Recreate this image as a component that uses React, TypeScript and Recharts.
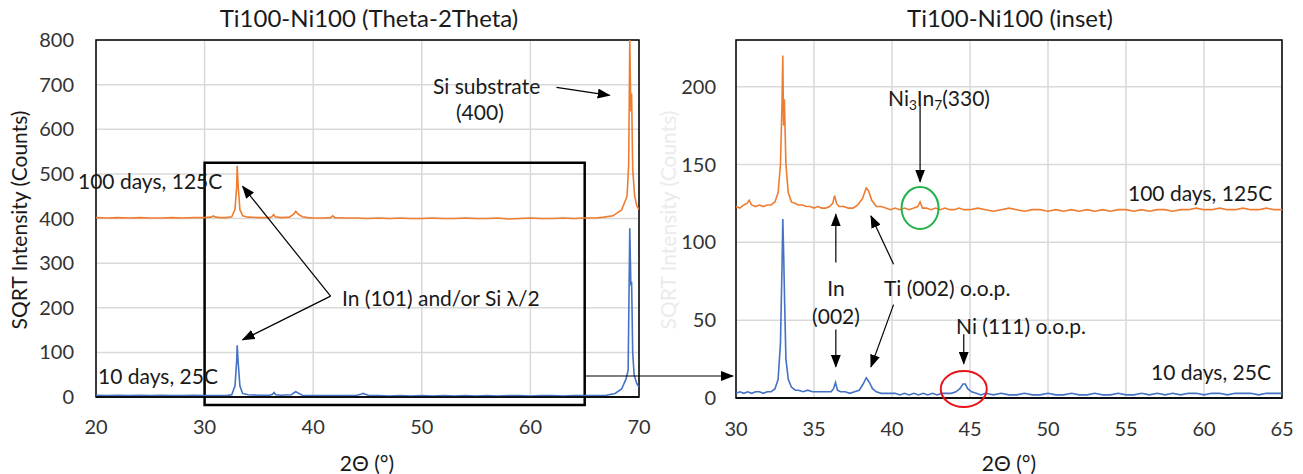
import React from "react";
import {
  LineChart,
  Line,
  XAxis,
  YAxis,
  CartesianGrid,
  ReferenceArea,
  ReferenceLine,
  ReferenceDot,
} from "recharts";

// 2θ (deg), SQRT counts — full scan, 100 days 125C (offset trace)
const wideAged: [number, number][] = [
  [20, 402], [21, 401], [22, 402], [23, 401], [24, 402], [25, 401], [26, 401], [27, 402],
  [28, 401], [29, 402], [30, 402], [30.6, 403], [30.8, 406], [31, 403], [31.5, 402], [32, 402],
  [32.5, 404], [32.8, 420], [32.95, 470], [33, 518], [33.1, 470], [33.25, 420], [33.5, 406],
  [34, 403], [35, 402], [36, 402], [36.2, 404], [36.35, 409], [36.5, 404], [37, 402], [37.8, 403],
  [38.2, 410], [38.4, 416], [38.6, 410], [39, 404], [39.5, 402], [40, 401], [41, 401], [41.6, 402],
  [41.8, 406], [42, 402], [43, 401], [44, 401], [45, 400], [46, 401], [47, 400], [48, 401],
  [49, 400], [50, 400], [51, 401], [52, 400], [53, 400], [54, 401], [55, 400], [56, 400],
  [57, 401], [58, 399], [59, 400], [60, 401], [61, 400], [62, 400], [63, 401], [64, 400],
  [65, 401], [66, 401], [66.8, 403], [67.6, 406], [68.4, 419], [68.9, 450], [69.05, 520],
  [69.15, 800], [69.25, 640], [69.32, 680], [69.42, 510], [69.6, 450], [69.8, 428], [70, 420],
];

// full scan, 10 days 25C
const wideFresh: [number, number][] = [
  [20, 4], [21, 3], [22, 4], [23, 3], [24, 4], [25, 3], [26, 4], [27, 3], [28, 3], [29, 4],
  [30, 3], [31, 3], [32, 3], [32.5, 5], [32.8, 25], [32.95, 80], [33, 116], [33.1, 75],
  [33.25, 25], [33.5, 8], [34, 5], [35, 4], [36, 4], [36.25, 6], [36.4, 10], [36.55, 5],
  [37, 4], [38, 5], [38.2, 9], [38.4, 12], [38.6, 9], [39, 4], [40, 3], [41, 3], [42, 3],
  [43, 3], [44, 4], [44.4, 6], [44.6, 8], [44.8, 6], [45.2, 3], [46, 3], [47, 2], [48, 3],
  [49, 2], [50, 3], [51, 2], [52, 3], [53, 2], [54, 3], [55, 2], [56, 3], [57, 2], [58, 3],
  [59, 3], [60, 2], [61, 3], [62, 3], [63, 2], [64, 3], [65, 3], [66, 3], [67, 4], [67.8, 8],
  [68.4, 18], [68.8, 40], [69, 60], [69.15, 378], [69.25, 250], [69.32, 258], [69.42, 100],
  [69.55, 50], [69.8, 30], [70, 22],
];

// inset, 100 days 125C
const insetAged: [number, number][] = [
  [30, 123], [30.25, 122], [30.5, 124], [30.7, 125], [30.85, 127], [31, 124], [31.25, 123],
  [31.5, 124], [31.75, 123], [32, 124], [32.25, 124], [32.5, 126], [32.7, 132], [32.85, 150],
  [32.95, 190], [33, 220], [33.05, 175], [33.1, 192], [33.2, 150], [33.35, 132], [33.55, 126],
  [33.8, 125], [34, 124], [34.25, 124], [34.5, 123], [34.75, 123], [35, 122], [35.25, 123],
  [35.5, 122], [35.75, 122], [36, 123], [36.2, 125], [36.32, 130], [36.45, 125], [36.6, 123],
  [36.9, 123], [37.2, 122], [37.5, 122], [37.8, 124], [38.1, 128], [38.35, 135], [38.5, 133],
  [38.7, 127], [39, 123], [39.3, 123], [39.6, 122], [39.9, 121], [40.2, 122], [40.5, 121],
  [40.8, 122], [41.1, 121], [41.4, 122], [41.65, 123], [41.8, 126], [41.95, 122], [42.2, 122],
  [42.5, 121], [42.8, 122], [43.1, 121], [43.4, 122], [43.7, 121], [44, 121], [44.3, 122],
  [44.6, 121], [45, 121], [45.5, 122], [46, 121], [46.5, 120], [47, 121], [47.5, 122],
  [48, 121], [48.5, 120], [49, 121], [49.5, 121], [50, 120], [50.5, 121], [51, 120],
  [51.5, 121], [52, 120], [52.5, 121], [53, 120], [53.5, 121], [54, 120], [54.5, 121],
  [55, 121], [55.5, 120], [56, 121], [56.5, 120], [57, 121], [57.5, 121], [58, 120],
  [58.5, 121], [59, 121], [59.5, 122], [60, 121], [60.5, 121], [61, 122], [61.5, 121],
  [62, 121], [62.5, 122], [63, 121], [63.5, 121], [64, 122], [64.5, 121], [65, 121],
];

// inset, 10 days 25C
const insetFresh: [number, number][] = [
  [30, 3], [30.25, 4], [30.5, 3], [30.75, 4], [31, 3], [31.25, 4], [31.5, 4], [31.75, 3],
  [32, 4], [32.25, 4], [32.5, 6], [32.7, 12], [32.85, 35], [32.95, 85], [33, 115], [33.05, 95],
  [33.12, 60], [33.2, 25], [33.35, 12], [33.55, 7], [33.8, 5], [34, 5], [34.3, 4], [34.6, 5],
  [34.9, 4], [35.2, 4], [35.5, 4], [35.8, 4], [36.1, 4], [36.25, 6], [36.38, 10], [36.5, 5],
  [36.7, 4], [37, 4], [37.3, 3], [37.6, 4], [37.9, 5], [38.15, 9], [38.35, 13], [38.55, 10],
  [38.75, 6], [39, 4], [39.3, 3], [39.6, 3], [39.9, 3], [40.2, 3], [40.5, 2], [40.8, 3],
  [41.1, 2], [41.4, 3], [41.7, 2], [42, 3], [42.3, 2], [42.6, 3], [42.9, 2], [43.2, 3],
  [43.5, 3], [43.8, 3], [44.1, 4], [44.35, 6], [44.55, 9], [44.7, 9], [44.85, 6], [45.1, 4],
  [45.4, 3], [45.7, 2], [46, 3], [46.5, 2], [47, 3], [47.5, 2], [48, 2], [48.5, 3], [49, 2],
  [49.5, 2], [50, 3], [50.5, 2], [51, 2], [51.5, 3], [52, 2], [52.5, 2], [53, 3], [53.5, 2],
  [54, 2], [54.5, 3], [55, 2], [55.5, 2], [56, 3], [56.5, 2], [57, 3], [57.5, 2], [58, 3],
  [58.5, 2], [59, 3], [59.5, 3], [60, 2], [60.5, 3], [61, 3], [61.5, 2], [62, 3], [62.5, 3],
  [63, 3], [63.5, 2], [64, 3], [64.5, 3], [65, 3],
];

const wideXTicks = [20, 30, 40, 50, 60, 70];
const wideYTicks = [0, 100, 200, 300, 400, 500, 600, 700, 800];
const insetXTicks = [30, 35, 40, 45, 50, 55, 60, 65];
const insetYTicks = [0, 50, 100, 150, 200];

const ORANGE = "#ED7D31";
const BLUE = "#4472C4";
const FONT = "Lato, 'Open Sans', sans-serif";
const tickStyle = { fill: "#333", fontSize: 20, fontFamily: FONT };

const rows = (pts: [number, number][]) => pts.map(([x, y]) => ({ x, y }));

const arrowShape = (p: any) => (
  <line
    x1={p.x1}
    y1={p.y1}
    x2={p.x2}
    y2={p.y2}
    stroke="#000"
    strokeWidth={1.2}
    markerEnd="url(#arrowHead)"
  />
);

function Note({
  x,
  y,
  center,
  size = 21,
  color = "#1a1a1a",
  children,
}: {
  x: number;
  y: number;
  center?: boolean;
  size?: number;
  color?: string;
  children: React.ReactNode;
}) {
  return (
    <div
      style={{
        position: "absolute",
        left: x,
        top: y,
        transform: center ? "translate(-50%, -50%)" : "translate(0, -50%)",
        fontFamily: FONT,
        fontSize: size,
        color,
        whiteSpace: "nowrap",
        lineHeight: 1,
        pointerEvents: "none",
      }}
    >
      {children}
    </div>
  );
}

const sub = { fontSize: "0.65em", position: "relative" as const, top: "0.3em" };

export default function App() {
  return (
    <div
      style={{
        position: "absolute",
        left: 0,
        top: 0,
        width: 1303,
        height: 474,
        background: "#fff",
        overflow: "hidden",
      }}
    >
      <svg width={0} height={0} style={{ position: "absolute" }}>
        <defs>
          <marker
            id="arrowHead"
            markerUnits="userSpaceOnUse"
            markerWidth={13}
            markerHeight={10}
            refX={12}
            refY={5}
            orient="auto"
          >
            <path d="M0,0 L13,5 L0,10 z" fill="#000" />
          </marker>
        </defs>
      </svg>

      {/* full scan */}
      <div style={{ position: "absolute", left: 0, top: 0 }}>
        <LineChart width={660} height={474} margin={{ top: 40, right: 21, left: 0, bottom: 0 }}>
          <CartesianGrid stroke="#d9d9d9" strokeWidth={1.5} />
          <XAxis
            type="number"
            dataKey="x"
            domain={[20, 70]}
            ticks={wideXTicks}
            allowDataOverflow
            height={77}
            tickLine={false}
            tickSize={0}
            tickMargin={23}
            axisLine={{ stroke: "#000", strokeWidth: 1.5 }}
            tick={tickStyle}
          />
          <YAxis
            type="number"
            domain={[0, 800]}
            ticks={wideYTicks}
            allowDataOverflow
            width={96}
            tickLine={false}
            tickSize={0}
            tickMargin={22}
            axisLine={false}
            tick={tickStyle}
          />
          <ReferenceArea x1={20} x2={70} y1={0} y2={800} fill="none" stroke="#000" strokeWidth={1.5} ifOverflow="visible" />
          <Line data={rows(wideAged)} dataKey="y" type="linear" stroke={ORANGE} strokeWidth={1.6} dot={false} isAnimationActive={false} />
          <Line data={rows(wideFresh)} dataKey="y" type="linear" stroke={BLUE} strokeWidth={1.6} dot={false} isAnimationActive={false} />
          <ReferenceArea x1={30} x2={65} y1={-18} y2={525} fill="none" stroke="#000" strokeWidth={2.5} ifOverflow="visible" />
          <ReferenceLine segment={[{ x: 62.4, y: 694 }, { x: 67.3, y: 676 }]} shape={arrowShape} ifOverflow="visible" />
          <ReferenceLine segment={[{ x: 41.6, y: 226 }, { x: 33.5, y: 472 }]} shape={arrowShape} ifOverflow="visible" />
          <ReferenceLine segment={[{ x: 41.6, y: 226 }, { x: 33.5, y: 128 }]} shape={arrowShape} ifOverflow="visible" />
        </LineChart>
      </div>

      {/* inset */}
      <div style={{ position: "absolute", left: 660, top: 0 }}>
        <LineChart width={643} height={474} margin={{ top: 40, right: 21, left: 0, bottom: 0 }}>
          <CartesianGrid stroke="#d9d9d9" strokeWidth={1.5} />
          <XAxis
            type="number"
            dataKey="x"
            domain={[30, 65]}
            ticks={insetXTicks}
            allowDataOverflow
            height={76}
            tickLine={false}
            tickSize={0}
            tickMargin={24}
            axisLine={{ stroke: "#000", strokeWidth: 1.5 }}
            tick={tickStyle}
          />
          <YAxis
            type="number"
            domain={[0, 230]}
            ticks={insetYTicks}
            allowDataOverflow
            width={76}
            tickLine={false}
            tickSize={0}
            tickMargin={20}
            axisLine={false}
            tick={tickStyle}
          />
          <ReferenceArea x1={30} x2={65} y1={0} y2={230} fill="none" stroke="#000" strokeWidth={1.5} ifOverflow="visible" />
          <Line data={rows(insetAged)} dataKey="y" type="linear" stroke={ORANGE} strokeWidth={1.6} dot={false} isAnimationActive={false} />
          <Line data={rows(insetFresh)} dataKey="y" type="linear" stroke={BLUE} strokeWidth={1.6} dot={false} isAnimationActive={false} />
          <ReferenceDot
            x={41.8}
            y={122}
            ifOverflow="visible"
            shape={(p: any) => <ellipse cx={p.cx} cy={p.cy} rx={18.5} ry={21} fill="none" stroke="#22B14C" strokeWidth={2} />}
          />
          <ReferenceDot
            x={44.6}
            y={5.8}
            ifOverflow="visible"
            shape={(p: any) => <ellipse cx={p.cx} cy={p.cy} rx={23} ry={18} fill="none" stroke="#E8141B" strokeWidth={2} />}
          />
          <ReferenceLine segment={[{ x: 41.8, y: 188 }, { x: 41.8, y: 139 }]} shape={arrowShape} ifOverflow="visible" />
          <ReferenceLine segment={[{ x: 36.4, y: 87 }, { x: 36.4, y: 118 }]} shape={arrowShape} ifOverflow="visible" />
          <ReferenceLine segment={[{ x: 36.4, y: 44 }, { x: 36.4, y: 20 }]} shape={arrowShape} ifOverflow="visible" />
          <ReferenceLine segment={[{ x: 40.1, y: 86 }, { x: 38.65, y: 117 }]} shape={arrowShape} ifOverflow="visible" />
          <ReferenceLine segment={[{ x: 40.1, y: 60 }, { x: 38.65, y: 20 }]} shape={arrowShape} ifOverflow="visible" />
          <ReferenceLine segment={[{ x: 44.6, y: 41 }, { x: 44.6, y: 22 }]} shape={arrowShape} ifOverflow="visible" />
        </LineChart>
      </div>

      {/* link from the boxed region to the inset */}
      <svg width={1303} height={474} style={{ position: "absolute", left: 0, top: 0, pointerEvents: "none" }}>
        <line x1={585} y1={376} x2={733} y2={376} stroke="#000" strokeWidth={1.2} markerEnd="url(#arrowHead)" />
      </svg>

      <Note x={369} y={18} center size={24}>Ti100-Ni100 (Theta-2Theta)</Note>
      <Note x={1010} y={18} center size={24}>Ti100-Ni100 (inset)</Note>
      <Note x={367} y={462} center>2Θ (°)</Note>
      <Note x={1009} y={462} center>2Θ (°)</Note>
      <div
        style={{
          position: "absolute",
          left: 18,
          top: 220,
          transform: "translate(-50%, -50%) rotate(-90deg)",
          fontFamily: FONT,
          fontSize: 21,
          color: "#1a1a1a",
          whiteSpace: "nowrap",
          lineHeight: 1,
        }}
      >
        SQRT Intensity (Counts)
      </div>
      <div
        style={{
          position: "absolute",
          left: 667,
          top: 220,
          transform: "translate(-50%, -50%) rotate(-90deg)",
          fontFamily: FONT,
          fontSize: 21,
          color: "#ebebeb",
          whiteSpace: "nowrap",
          lineHeight: 1,
        }}
      >
        SQRT Intensity (Counts)
      </div>

      <Note x={433} y={85}>Si substrate</Note>
      <Note x={456} y={111}>(400)</Note>
      <Note x={78} y={180}>100 days, 125C</Note>
      <Note x={342} y={297}>In (101) and/or Si λ/2</Note>
      <Note x={98} y={375}>10 days, 25C</Note>

      <Note x={888} y={98}>
        Ni<span style={sub}>3</span>In<span style={sub}>7</span>(330)
      </Note>
      <Note x={1128} y={192}>100 days, 125C</Note>
      <Note x={836} y={287} center>In</Note>
      <Note x={836} y={315} center>(002)</Note>
      <Note x={884} y={287}>Ti (002) o.o.p.</Note>
      <Note x={956} y={325}>Ni (111) o.o.p.</Note>
      <Note x={1151} y={371}>10 days, 25C</Note>
    </div>
  );
}
